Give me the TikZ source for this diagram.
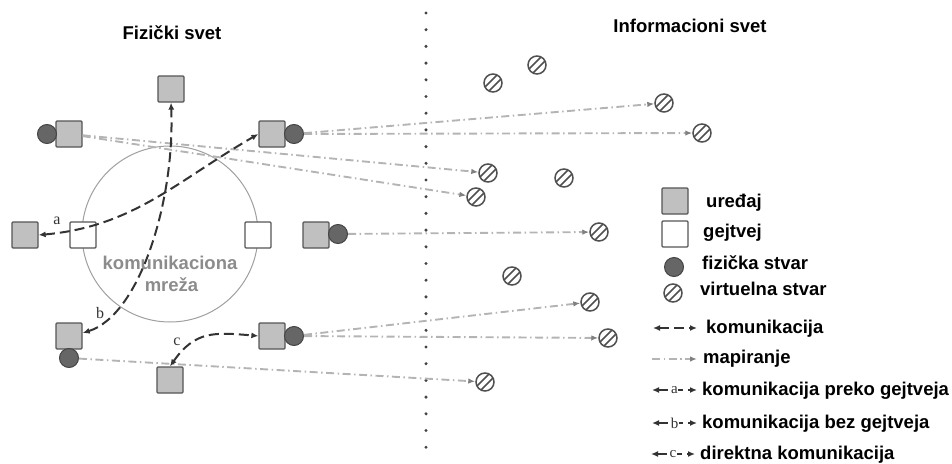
\documentclass[tikz,border=0pt]{standalone}
\usepackage{fontspec}
\setmainfont{Liberation Sans}
\newfontfamily\letterfont{Liberation Serif}
\usetikzlibrary{arrows.meta,calc}

\definecolor{devfill}{HTML}{C0C0C0}
\definecolor{devline}{HTML}{555555}
\definecolor{physfill}{HTML}{666666}
\definecolor{physline}{HTML}{444444}
\definecolor{virtline}{HTML}{505050}
\definecolor{netline}{HTML}{A0A0A0}
\definecolor{nettext}{HTML}{8C8C8C}
\definecolor{mapline}{HTML}{B4B4B4}
\definecolor{maptip}{HTML}{808080}
\definecolor{commline}{HTML}{333333}
\definecolor{dotcol}{HTML}{444444}

\tikzset{
  txt/.style={font=\fontsize{18.5}{20}\selectfont\bfseries, inner sep=0pt},
  device/.style={rectangle, rounded corners=1pt, draw=devline, fill=devfill, line width=1.3pt,
                 minimum size=26pt, inner sep=0pt},
  gateway/.style={device, fill=white},
  phys/.style={circle, draw=physline, fill=physfill, line width=1pt, minimum size=19pt, inner sep=0pt},
  virt/.style={circle, draw=virtline, fill=white, line width=1.5pt, minimum size=18pt, inner sep=0pt,
    path picture={
      \draw[line width=1.5pt, virtline] ([shift={(-9pt,-5pt)}]path picture bounding box.center) -- ++(14pt,14pt);
      \draw[line width=1.5pt, virtline] ([shift={(-5pt,-9pt)}]path picture bounding box.center) -- ++(14pt,14pt);
    }},
  comm/.style={draw=commline, line width=2pt, dash pattern=on 10pt off 5pt,
               {Latex[length=7pt,width=6pt]}-{Latex[length=7pt,width=6pt]}},
  mapping/.style={draw=mapline, line width=1.9pt, dash pattern=on 8pt off 3.5pt on 1.5pt off 3.5pt,
               -{Latex[length=7pt,width=5.5pt,color=maptip]}},
  lbl/.style={font=\letterfont\fontsize{16}{16}\selectfont, text=commline, inner sep=0pt},
  keylbl/.style={font=\letterfont\fontsize{15}{15}\selectfont, text=commline, fill=white, inner sep=0.5pt}
}

\begin{document}
\begin{tikzpicture}[x=1pt,y=1pt]
\useasboundingbox (0,0) rectangle (952,-463);

% headings
\node[txt, anchor=base] (hPhys) at (172,-39.5) {Fizički svet};
\node[txt, anchor=base] (hInfo) at (690,-32) {Informacioni svet};

% dotted border between the two worlds
\foreach \i in {0,...,26}
  \fill[dotcol] (426,-13-16.7*\i) circle (1.7);

% communication network
\node[circle, draw=netline, line width=1pt, minimum size=176pt, inner sep=0pt] (net) at (170,-234) {};
\node[txt, text=nettext, anchor=base] (netA) at (170,-269) {komunikaciona};
\node[txt, text=nettext, anchor=base] (netB) at (171.5,-291) {mreža};

% devices, gateways and physical things
\node[device] (dT)  at (171,-89) {};
\node[device] (dL)  at (69,-134) {};
\node[phys]   (pL)  at (47,-134) {};
\node[device] (dR1) at (272,-134) {};
\node[phys]   (pR1) at (294,-134) {};
\node[device] (dLL) at (25,-235) {};
\node[gateway] (gL) at (83,-235) {};
\node[gateway] (gR) at (258,-235) {};
\node[device] (dM)  at (316,-235) {};
\node[phys]   (pM)  at (338,-234) {};
\node[device] (dBL) at (69,-336) {};
\node[phys]   (pBL) at (69,-358) {};
\node[device] (dB)  at (170,-380) {};
\node[device] (dBR) at (272,-336) {};
\node[phys]   (pBR) at (294,-336) {};

% virtual things
\node[virt] (v1)  at (493,-83) {};
\node[virt] (v2)  at (537,-65) {};
\node[virt] (v3)  at (664,-103) {};
\node[virt] (v4)  at (702,-133) {};
\node[virt] (v5)  at (488,-173) {};
\node[virt] (v6)  at (564,-178) {};
\node[virt] (v7)  at (476,-197) {};
\node[virt] (v8)  at (599,-232) {};
\node[virt] (v9)  at (512,-276) {};
\node[virt] (v10) at (590,-302) {};
\node[virt] (v11) at (608,-338) {};
\node[virt] (v12) at (485,-382) {};

% mapping of physical things to virtual things
\draw[mapping] (dL) -- (v5);
\draw[mapping] (dL) -- (v7);
\draw[mapping] (pR1) -- (v3);
\draw[mapping] (pR1) -- (v4);
\draw[mapping] (pM) -- (v8);
\draw[mapping] (pBR) -- (v10);
\draw[mapping] (pBR) -- (v11);
\draw[mapping] (pBL) -- (v12);

% communication paths
\draw[comm] (dLL.east) to[out=5, in=-150] (dR1.west);
\draw[comm] ([yshift=3pt]dBL.east) .. controls (140,-315) and (175,-200) .. (dT.south);
\draw[comm] (dB.north) to[out=55, in=175, looseness=1.2] (dBR.west);
\node[lbl] (la) at (57,-221) {a};
\node[lbl] (lb) at (100,-313) {b};
\node[lbl] (lc) at (177,-342) {c};

% key
\node[device]  (kDev)  at (675,-201) {};
\node[txt, anchor=base west] (tDev) at (706,-207) {uređaj};
\node[gateway] (kGw)   at (675,-234) {};
\node[txt, anchor=base west] (tGw) at (703,-237) {gejtvej};
\node[phys]    (kPhys) at (674,-267) {};
\node[txt, anchor=base west] (tPhys) at (702,-269) {fizička stvar};
\node[virt]    (kVirt) at (673,-293) {};
\node[txt, anchor=base west] (tVirt) at (700,-295) {virtuelna stvar};

\coordinate (kc1) at (653,-328); \coordinate (kc2) at (697,-328);
\draw[comm] (kc1) -- (kc2);
\node[txt, anchor=base west] (tComm) at (706,-333) {komunikacija};

\coordinate (km1) at (652,-359); \coordinate (km2) at (697,-359);
\draw[mapping] (km1) -- (km2);
\node[txt, anchor=base west] (tMap) at (703,-363) {mapiranje};

\coordinate (ka1) at (652,-390); \coordinate (ka2) at (697,-390);
\draw[comm] (ka1) -- node[keylbl] {a} (ka2);
\node[txt, anchor=base west] (tA) at (702,-395) {komunikacija preko gejtveja};

\coordinate (kb1) at (652,-423); \coordinate (kb2) at (697,-423);
\draw[comm] (kb1) -- node[keylbl] {b} (kb2);
\node[txt, anchor=base west] (tB) at (702,-428) {komunikacija bez gejtveja};

\coordinate (kcc1) at (651,-454); \coordinate (kcc2) at (695,-454);
\draw[comm] (kcc1) -- node[keylbl] {c} (kcc2);
\node[txt, anchor=base west] (tC) at (700,-459) {direktna komunikacija};
\end{tikzpicture}
\end{document}
